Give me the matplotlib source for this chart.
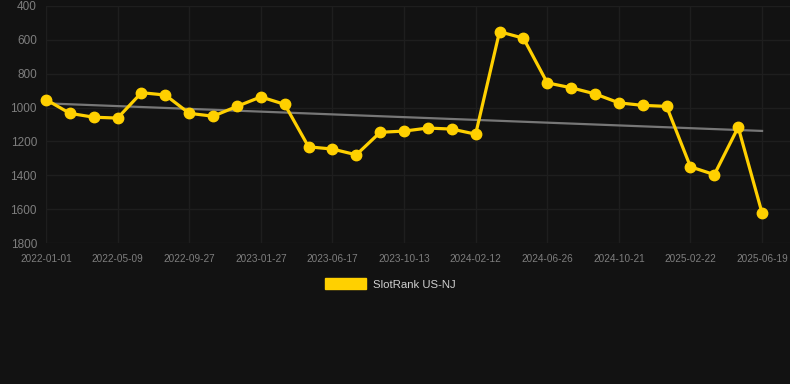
import matplotlib
matplotlib.use("Agg")
import matplotlib.pyplot as plt
from matplotlib.patches import Patch
import numpy as np

tick_labels = ["2022-01-01", "2022-05-09", "2022-09-27", "2023-01-27", "2023-06-17",
               "2023-10-13", "2024-02-12", "2024-06-26", "2024-10-21", "2025-02-22",
               "2025-06-19"]
ranks = [953, 1034, 1057, 1062, 912, 926, 1034, 1051, 993, 937, 981,
         1232, 1245, 1279, 1146, 1139, 1121, 1127, 1157, 552, 590,
         854, 883, 919, 972, 987, 993, 1350, 1396, 1116, 1623]
trend_start_end = [975, 1138]
series_name = "SlotRank US-NJ"

BG = "#121212"
YELLOW = "#FFD000"
GRID = "#1e1e1e"
TXT = "#7e7e7e"

plt.rcParams['font.family'] = ['Liberation Sans', 'DejaVu Sans']

fig = plt.figure(figsize=(7.9, 3.84), dpi=100, facecolor=BG)
ax = fig.add_axes([46/790, (384-243)/384, 744/790, 237/384])
ax.set_facecolor(BG)

x = np.arange(len(ranks))
ax.plot([x[0], x[-1]], trend_start_end, color="#777777", lw=1.6, zorder=2, clip_on=False)
ax.plot(x, ranks, color=YELLOW, lw=2.3, marker='o', markersize=7.5,
        markerfacecolor=YELLOW, markeredgecolor=YELLOW, zorder=3, clip_on=False)

ax.set_ylim(1800, 400)
ax.set_yticks(np.arange(400, 1801, 200))
ax.set_xlim(0, 31.17)
tick_pos = np.arange(0, len(ranks), 3)
ax.set_xticks(tick_pos)
ax.set_xticklabels(tick_labels)

ax.grid(True, color=GRID, lw=1)
ax.set_axisbelow(True)
for s in ax.spines.values():
    s.set_visible(False)
ax.tick_params(axis='y', length=0, pad=6.5, labelsize=8.5, labelcolor=TXT)
ax.tick_params(axis='x', length=0, pad=8, labelsize=7.2, labelcolor=TXT)

leg = fig.legend(handles=[Patch(facecolor=YELLOW, edgecolor=YELLOW)], labels=[series_name],
                 loc='center', bbox_to_anchor=(390/790, 1 - 284/384), frameon=False,
                 handlelength=3.6, handleheight=1.08, handletextpad=0.6,
                 fontsize=8.2, labelcolor="#cfcfcf")

fig.savefig("out.png", dpi=100, facecolor=BG)
